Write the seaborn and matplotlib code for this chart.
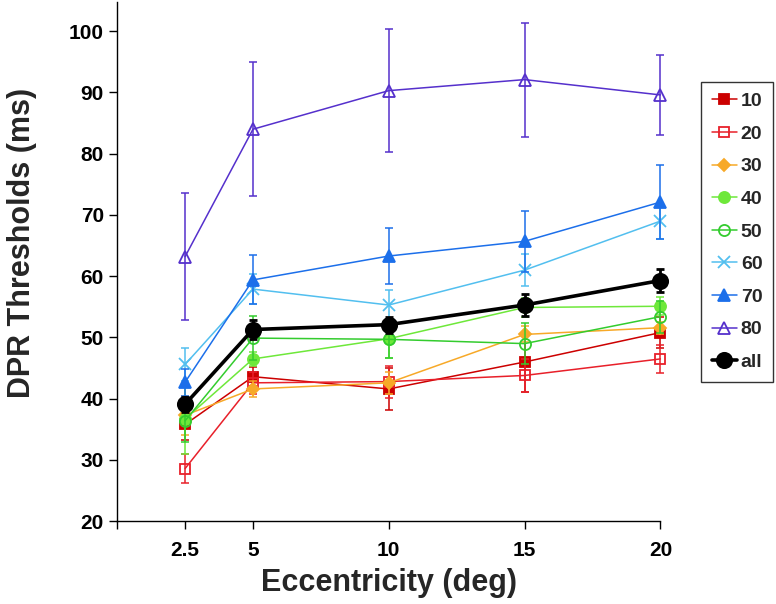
import numpy as np
import pandas as pd
import matplotlib
matplotlib.use("Agg")
import matplotlib.pyplot as plt
import seaborn as sns

# ── Data ──────────────────────────────────────────────────────
ecc = [2.5, 5, 10, 15, 20]

thr_10 = [35.8, 43.6, 41.6, 46.0, 50.8]
err_10 = [2.6, 1.6, 3.4, 4.9, 2.5]
thr_20 = [28.6, 42.6, 42.8, 43.8, 46.5]
err_20 = [2.4, 1.8, 2.6, 2.7, 2.3]
thr_30 = [37.3, 41.6, 42.6, 50.5, 51.6]
err_30 = [3.2, 1.3, 1.8, 1.3, 1.0]
thr_40 = [36.7, 46.5, 49.8, 54.9, 55.1]
err_40 = [5.7, 1.2, 3.1, 1.5, 1.5]
thr_50 = [36.4, 49.9, 49.7, 49.0, 53.4]
err_50 = [3.4, 3.6, 3.1, 3.3, 2.6]
thr_60 = [45.6, 57.9, 55.3, 61.0, 69.0]
err_60 = [2.7, 2.4, 2.5, 2.6, 3.0]
thr_70 = [42.7, 59.4, 63.3, 65.7, 72.1]
err_70 = [2.2, 4.0, 4.6, 5.0, 6.1]
thr_80 = [63.2, 84.0, 90.3, 92.1, 89.6]
err_80 = [10.4, 10.9, 10.1, 9.3, 6.5]
thr_all = [39.1, 51.3, 52.1, 55.3, 59.3]
err_all = [1.2, 1.5, 1.3, 1.8, 1.9]

labels = ["10", "20", "30", "40", "50", "60", "70", "80", "all"]
thresholds = [thr_10, thr_20, thr_30, thr_40, thr_50, thr_60, thr_70, thr_80, thr_all]
errors = [err_10, err_20, err_30, err_40, err_50, err_60, err_70, err_80, err_all]

xticks = [0, 2.5, 5, 10, 15, 20]
xticklabels = ["", "2.5", "5", "10", "15", "20"]
yticks = [20, 30, 40, 50, 60, 70, 80, 90, 100]

# ── Styles per series ─────────────────────────────────────────
styles = {
    "10":  dict(color="#CC0000", marker="s", ms=7.5, filled=True,  lw=1.1),
    "20":  dict(color="#E8202A", marker="s", ms=7.5, filled=False, lw=1.1),
    "30":  dict(color="#F7A928", marker="D", ms=6.5, filled=True,  lw=1.1),
    "40":  dict(color="#6EE83A", marker="o", ms=8,   filled=True,  lw=1.1),
    "50":  dict(color="#33CC2E", marker="o", ms=8,   filled=False, lw=1.1),
    "60":  dict(color="#52BFEF", marker="x", ms=8.5, filled=True,  lw=1.1),
    "70":  dict(color="#1C6FEA", marker="^", ms=8.5, filled=True,  lw=1.1),
    "80":  dict(color="#5530CC", marker="^", ms=9,   filled=False, lw=1.1),
    "all": dict(color="#000000", marker="o", ms=11,  filled=True,  lw=2.6),
}

sns.set_style("ticks")
plt.rcParams["font.family"] = ["Liberation Sans", "DejaVu Sans"]
plt.rcParams["font.weight"] = "bold"

fig, ax = plt.subplots(figsize=(7.76, 6.04), dpi=100)
fig.subplots_adjust(left=0.151, right=0.851, bottom=0.137, top=0.997)

for i, (lab, thr, err) in enumerate(zip(labels, thresholds, errors)):
    st = styles[lab]
    df = pd.DataFrame({"ecc": ecc, "thr": thr})
    z = 10 if lab == "all" else 3 + i * 0.1
    ax.errorbar(ecc, thr, yerr=err, fmt="none", ecolor=st["color"],
                elinewidth=1.1 if lab != "all" else 2.0,
                capsize=3, capthick=1.1 if lab != "all" else 2.0, zorder=z)
    sns.lineplot(data=df, x="ecc", y="thr", ax=ax, color=st["color"],
                 marker=st["marker"], markersize=st["ms"], lw=st["lw"],
                 markeredgecolor=st["color"],
                 markerfacecolor=st["color"] if st["filled"] else "none",
                 markeredgewidth=1.3, label=lab, zorder=z + 0.05,
                 errorbar=None)

ax.set_xlim(0, 20)
ax.set_ylim(20, 104.8)
ax.set_xticks(xticks)
ax.set_xticklabels(xticklabels)
ax.set_yticks(yticks)
ax.tick_params(axis="both", direction="out", length=6, width=1,
               labelsize=15, colors="black")
ax.tick_params(axis="x", pad=8)
for t in ax.get_xticklabels() + ax.get_yticklabels():
    t.set_fontweight("bold")
ax.set_xlabel("Eccentricity (deg)", fontsize=22, fontweight="bold", labelpad=6)
ax.set_ylabel("DPR Thresholds (ms)", fontsize=22, fontweight="bold")
ax.yaxis.set_label_coords(-0.147, 0.535)

for side in ["top", "right"]:
    ax.spines[side].set_visible(False)
for side in ["left", "bottom"]:
    ax.spines[side].set_color("black")
    ax.spines[side].set_linewidth(1)
    ax.spines[side].set_clip_on(False)

for line in ax.lines:
    line.set_clip_on(False)
for coll in ax.collections:
    coll.set_clip_on(False)

handles, labs = ax.get_legend_handles_labels()
leg = ax.legend(handles, labs, loc="upper left",
                bbox_to_anchor=(701 / 776, 1 - 82 / 604),
                bbox_transform=fig.transFigure, frameon=True, fancybox=False,
                edgecolor="black", fontsize=14, handlelength=1.3,
                handletextpad=0.2, labelspacing=0.77, borderpad=0.55,
                borderaxespad=0)
leg.get_frame().set_linewidth(1)
for t in leg.get_texts():
    t.set_fontweight("bold")

fig.savefig("out.png", dpi=100)
